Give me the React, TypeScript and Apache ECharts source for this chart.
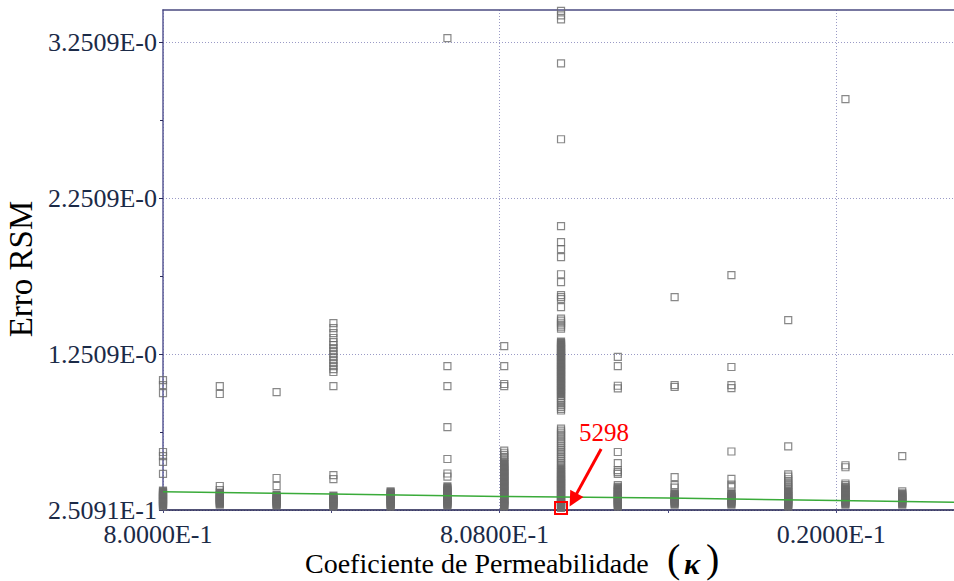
import React, { useEffect, useRef } from "react";
import * as echarts from "echarts";

// Permeability coefficient values (x) at which runs were made
const kappaValues = [
  0.8, 0.80135, 0.8027, 0.80405, 0.80541, 0.80676, 0.80811, 0.80946, 0.81081,
  0.81216, 0.81351, 0.81486, 0.81622, 0.81757,
];

// RSM error of the runs for each kappa value
const errK0 = [1.084, 1.052, 1.001, 0.623, 0.597, 0.559, 0.482, 0.376, 0.367, 0.359, 0.351, 0.344, 0.336, 0.328, 0.32, 0.312, 0.305, 0.297, 0.289, 0.281, 0.274];
const errK1 = [1.046, 0.995, 0.405, 0.379, 0.363, 0.355, 0.347, 0.339, 0.331, 0.323, 0.316, 0.308, 0.3, 0.293, 0.286];
const errK2 = [1.007, 0.456, 0.405, 0.35, 0.342, 0.334, 0.326, 0.318, 0.31, 0.302, 0.294, 0.287, 0.28];
const errK3 = [1.45, 1.418, 1.386, 1.354, 1.328, 1.309, 1.289, 1.27, 1.251, 1.232, 1.212, 1.193, 1.174, 1.155, 1.136, 1.046, 0.475, 0.449, 0.344, 0.336, 0.328, 0.32, 0.312, 0.304, 0.296, 0.288, 0.28, 0.273];
const errK4 = [0.37, 0.362, 0.354, 0.346, 0.338, 0.33, 0.322, 0.314, 0.306, 0.298, 0.29, 0.282, 0.273];
const errK5 = [3.277, 1.174, 1.046, 0.783, 0.578, 0.485, 0.465, 0.402, 0.393, 0.383, 0.375, 0.367, 0.358, 0.35, 0.342, 0.334, 0.326, 0.318, 0.31, 0.302, 0.294, 0.287, 0.28];
const errK6 = [1.302, 1.174, 1.059, 1.046, 0.632, 0.618, 0.605, 0.592, 0.58, 0.567, 0.555, 0.545, 0.535, 0.526, 0.517, 0.508, 0.5, 0.492, 0.484, 0.476, 0.468, 0.46, 0.452, 0.444, 0.436, 0.428, 0.42, 0.412, 0.404, 0.396, 0.388, 0.38, 0.372, 0.364, 0.356, 0.348, 0.34, 0.332, 0.324, 0.316, 0.308, 0.3, 0.292, 0.284, 0.277, 0.273];
const errK7 = [
  3.452, 3.424, 3.398, 3.116, 2.629, 2.072, 1.969, 1.924, 1.873, 1.763, 1.712, 1.629, 1.616, 1.603, 1.552,
  1.478, 1.465, 1.452, 1.44, 1.427, 1.414,
  1.331, 1.322, 1.313, 1.304, 1.292, 1.283, 1.274, 1.265, 1.256, 1.247, 1.238, 1.229, 1.218, 1.209, 1.2, 1.191, 1.182, 1.173, 1.164, 1.155, 1.146, 1.137, 1.128, 1.119, 1.11, 1.101, 1.092, 1.083, 1.074, 1.065, 1.056, 1.047, 1.038, 1.029, 1.02, 1.011, 1.002, 0.993, 0.982, 0.971, 0.96, 0.949, 0.936, 0.924, 0.912, 0.9, 0.889,
  0.773, 0.76, 0.747, 0.734, 0.721, 0.708, 0.695, 0.683, 0.671, 0.659, 0.647, 0.635, 0.623, 0.611, 0.599, 0.587, 0.575, 0.563, 0.551, 0.54, 0.529, 0.518, 0.508, 0.499, 0.49, 0.481, 0.472, 0.463, 0.455, 0.447, 0.439, 0.431, 0.423, 0.415, 0.407, 0.399, 0.391, 0.383, 0.375, 0.367, 0.359, 0.351, 0.343, 0.335, 0.327, 0.319, 0.311, 0.303, 0.295, 0.287, 0.279, 0.272, 0.264,
];
const errK8 = [1.233, 1.174, 1.048, 1.031, 0.623, 0.552, 0.507, 0.494, 0.482, 0.411, 0.4, 0.39, 0.38, 0.371, 0.362, 0.353, 0.344, 0.336, 0.328, 0.32, 0.312, 0.304, 0.296, 0.288, 0.28, 0.273];
const errK9 = [1.616, 1.052, 1.04, 0.462, 0.411, 0.395, 0.357, 0.349, 0.341, 0.333, 0.325, 0.317, 0.309, 0.301, 0.293, 0.286];
const errK10 = [1.757, 1.168, 1.052, 1.033, 0.626, 0.45, 0.414, 0.398, 0.357, 0.349, 0.341, 0.333, 0.325, 0.317, 0.309, 0.301, 0.293, 0.286];
const errK11 = [1.469, 0.659, 0.48, 0.465, 0.448, 0.435, 0.422, 0.41, 0.398, 0.386, 0.375, 0.365, 0.356, 0.347, 0.338, 0.33, 0.322, 0.314, 0.306, 0.298, 0.29, 0.282, 0.273];
const errK12 = [2.886, 0.538, 0.525, 0.421, 0.41, 0.399, 0.389, 0.379, 0.37, 0.361, 0.352, 0.343, 0.334, 0.326, 0.318, 0.31, 0.302, 0.294, 0.286];
const errK13 = [0.597, 0.37, 0.357, 0.349, 0.341, 0.333, 0.325, 0.317, 0.309, 0.301, 0.293, 0.286];

const errByKappa = [errK0, errK1, errK2, errK3, errK4, errK5, errK6, errK7, errK8, errK9, errK10, errK11, errK12, errK13];

// Green trend line
const trendKappa = [0.8, 0.804, 0.808, 0.812, 0.816, 0.8188];
const trendErr = [0.3682, 0.3535, 0.3374, 0.3278, 0.3112, 0.3003];

// Axis ticks and titles
const xMin = 0.8;
const xMax = 0.8188;
const xTickValues = [0.8, 0.808, 0.816];
const xTickLabels = ["8.0000E-1", "8.0800E-1", "0.2000E-1"];
const xMinorTickValues = [0.804, 0.812];
const yMin = 0.2509;
const yMax = 3.458;
const yTickValues = [0.2509, 1.2509, 2.2509, 3.2509];
const yTickLabels = ["2.5091E-1", "1.2509E-0", "2.2509E-0", "3.2509E-0"];
const yMinorTickValues = [0.7509, 1.7509, 2.7509];
const xTitle = "Coeficiente de Permeabilidade";
const xTitleSymbol = "κ";
const yTitle = "Erro RSM";

// Annotation of the best run
const bestRunLabel = "5298";
const bestRunPoint = [0.80946, 0.264];
const bestLabelPoint = [0.810484, 0.7448];
const arrowStart = [0.810413, 0.6422];
const arrowEnd = [0.80975, 0.316];

const FONT = "Liberation Serif";
const DENSE_GAP = 0.0105;

function lookup(values: number[], labels: string[], v: number): string {
  for (let i = 0; i < values.length; i++) {
    if (Math.abs(values[i] - v) < 1e-6) return labels[i];
  }
  return "";
}

export default function App() {
  const ref = useRef<HTMLDivElement>(null);

  useEffect(() => {
    if (!ref.current) return;
    const chart = echarts.init(ref.current, null, { renderer: "svg" });

    // points that sit in a tightly packed stack are drawn filled (overlapping outlines)
    const scatterData: any[] = [];
    errByKappa.forEach((list, i) => {
      list.forEach((v, j) => {
        const dense = list.some((w, m) => m !== j && Math.abs(w - v) < DENSE_GAP);
        scatterData.push(
          dense
            ? { value: [kappaValues[i], v], itemStyle: { color: "#6a6a6a" } }
            : { value: [kappaValues[i], v] }
        );
      });
    });
    const trendData = trendKappa.map((k, i) => [k, trendErr[i]]);

    const hidden = { show: false };

    chart.setOption({
      animation: false,
      backgroundColor: "#ffffff",
      grid: { left: 163, right: 0, top: 10, bottom: 71, containLabel: false, outerBoundsMode: "none" },
      graphic: [
        {
          type: "text",
          left: 305,
          top: 549,
          silent: true,
          style: { text: xTitle, fontFamily: FONT, fontSize: 28, fill: "#000" },
        },
        {
          type: "text",
          left: 667,
          top: 538,
          silent: true,
          style: { text: "(", fontFamily: FONT, fontSize: 40, fill: "#000" },
        },
        {
          type: "text",
          left: 684,
          top: 548,
          silent: true,
          style: { text: xTitleSymbol, fontFamily: FONT, fontSize: 30, fontStyle: "italic", fontWeight: "bold", fill: "#000" },
        },
        {
          type: "text",
          left: 706,
          top: 538,
          silent: true,
          style: { text: ")", fontFamily: FONT, fontSize: 40, fill: "#000" },
        },
      ],
      xAxis: [
        {
          type: "value",
          min: xMin,
          max: xMax,
          interval: 0.008,
          position: "bottom",
          axisLine: { show: true, lineStyle: { color: "#1a1a4a", width: 1.5 } },
          axisTick: { show: true, length: 3, customValues: xTickValues, lineStyle: { color: "#4a4a80" } },
          axisLabel: {
            show: true,
            customValues: xTickValues,
            formatter: (v: number) => lookup(xTickValues, xTickLabels, v),
            fontFamily: FONT,
            fontSize: 26,
            lineHeight: 22,
            color: "#1b2a47",
            margin: 13,
            padding: [0, 10, 0, 0],
          },
          splitLine: { show: true, lineStyle: { color: "#9a9ac6", type: [1, 2], width: 1 } },
        },
        {
          type: "value",
          min: xMin,
          max: xMax,
          position: "bottom",
          axisLine: hidden,
          axisLabel: hidden,
          splitLine: hidden,
          axisTick: { show: true, length: 3, customValues: xMinorTickValues, lineStyle: { color: "#4a4a80" } },
        },
        {
          type: "value",
          min: xMin,
          max: xMax,
          position: "top",
          axisLine: { show: true, lineStyle: { color: "#4a4a80", width: 1.5 } },
          axisLabel: hidden,
          axisTick: hidden,
          splitLine: hidden,
        },
      ],
      yAxis: [
        {
          type: "value",
          min: yMin,
          max: yMax,
          interval: 1,
          position: "left",
          name: yTitle,
          nameLocation: "middle",
          nameGap: 122,
          nameTextStyle: { fontFamily: FONT, fontSize: 33, color: "#000", padding: [0, 18, 0, 0] },
          axisLine: { show: true, lineStyle: { color: "#5a5a96", width: 1.5 } },
          axisTick: { show: true, length: 4, customValues: yTickValues, lineStyle: { color: "#2a2a5a" } },
          axisLabel: {
            show: true,
            customValues: yTickValues,
            formatter: (v: number) => lookup(yTickValues, yTickLabels, v),
            fontFamily: FONT,
            fontSize: 26,
            lineHeight: 22,
            color: "#1b2a47",
            margin: 6,
          },
          splitLine: { show: true, lineStyle: { color: "#9a9ac6", type: [1, 2], width: 1 } },
        },
        {
          type: "value",
          min: yMin,
          max: yMax,
          position: "left",
          axisLine: hidden,
          axisLabel: hidden,
          splitLine: hidden,
          axisTick: { show: true, length: 3, customValues: yMinorTickValues, lineStyle: { color: "#2a2a5a" } },
        },
      ],
      series: [
        {
          type: "scatter",
          name: "Erro RSM",
          data: scatterData,
          symbol: "rect",
          symbolSize: 7,
          silent: true,
          itemStyle: { color: "rgba(255,255,255,0)", borderColor: "#6a6a6a", borderWidth: 1.2 },
          emphasis: { disabled: true },
          markPoint: {
            silent: true,
            data: [
              {
                coord: bestRunPoint,
                symbol: "rect",
                symbolSize: 12,
                itemStyle: { color: "rgba(255,255,255,0)", borderColor: "#ff0000", borderWidth: 2 },
                label: { show: false },
              },
              {
                coord: bestLabelPoint,
                symbol: "rect",
                symbolSize: 1,
                itemStyle: { color: "rgba(255,255,255,0)" },
                label: {
                  show: true,
                  position: "inside",
                  formatter: bestRunLabel,
                  fontFamily: FONT,
                  fontSize: 25,
                  color: "#ff0000",
                },
              },
            ],
          },
          markLine: {
            silent: true,
            symbol: ["none", "triangle"],
            symbolSize: 15,
            label: { show: false },
            lineStyle: { color: "#ff0000", width: 3, type: "solid" },
            data: [
              [
                { coord: arrowStart, lineStyle: { color: "#ff0000", width: 3 } },
                { coord: arrowEnd, lineStyle: { color: "#ff0000", width: 3 } },
              ],
            ],
          },
        },
        {
          type: "line",
          name: "trend",
          data: trendData,
          showSymbol: false,
          symbol: "none",
          silent: true,
          lineStyle: { color: "#3aab3a", width: 1.5 },
          z: 3,
        },
      ],
    });

    return () => chart.dispose();
  }, []);

  return (
    <div
      ref={ref}
      style={{ position: "absolute", left: 0, top: 0, width: 954, height: 581, background: "#fff" }}
    />
  );
}
